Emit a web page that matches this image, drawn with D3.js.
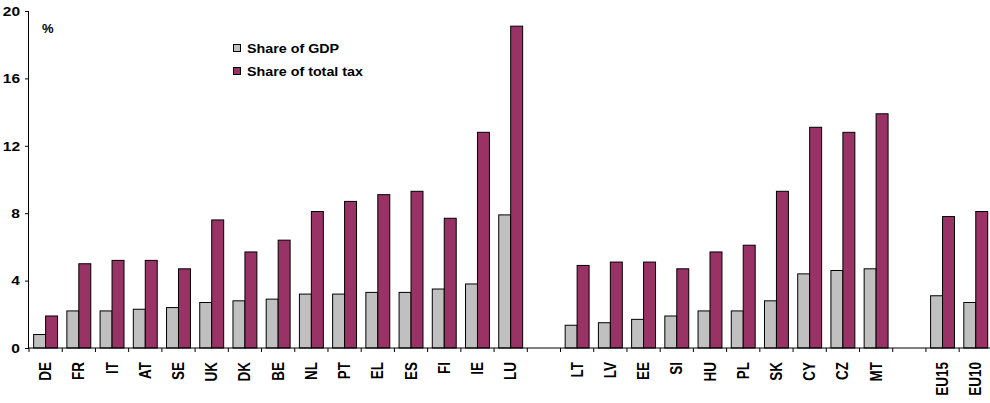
<!DOCTYPE html>
<html><head><meta charset="utf-8">
<script src="https://cdn.jsdelivr.net/npm/d3@7/dist/d3.min.js"></script>
<style>body{margin:0;background:#fff}text{font-family:"Liberation Sans",Arial,sans-serif;font-weight:bold;fill:#000}</style>
</head><body><svg id="c" width="990" height="403"></svg>
<script>
const categories = ["DE","FR","IT","AT","SE","UK","DK","BE","NL","PT","EL","ES","FI","IE","LU","",
  "LT","LV","EE","SI","HU","PL","SK","CY","CZ","MT"," ","EU15","EU10"];
const shareGDP = [0.8,2.2,2.2,2.3,2.4,2.7,2.8,2.9,3.2,3.2,3.3,3.3,3.5,3.8,7.9,null,
  1.35,1.5,1.7,1.9,2.2,2.2,2.8,4.4,4.6,4.7,null,3.1,2.7];
const shareTax = [1.9,5.0,5.2,5.2,4.7,7.6,5.7,6.4,8.1,8.7,9.1,9.3,7.7,12.8,19.1,null,
  4.9,5.1,5.1,4.7,5.7,6.1,9.3,13.1,12.8,13.9,null,7.8,8.1];
const yTicks = [0,4,8,12,16,20];
const seriesNames = ["Share of GDP","Share of total tax"];
const colors = ["#C0C0C0","#993366"];

const svg = d3.select("#c");
const x0 = 29, x1 = 29 + 29*33.22, yTop = 11, yBot = 348;
const x = d3.scaleBand().domain(categories.map((c,i)=>i)).range([x0,x1]).padding(0);
const y = d3.scaleLinear().domain([0,20]).range([yBot,yTop]);
const bw = x.bandwidth(), barW = bw*0.36, off = (bw-2*barW)/2;

// bars
[shareGDP, shareTax].forEach((vals,s)=>{
  svg.append("g").selectAll("rect").data(vals.map((v,i)=>({v,i})).filter(d=>d.v!=null))
    .join("rect")
    .attr("x",d=>x(d.i)+off+s*barW)
    .attr("y",d=>y(d.v))
    .attr("width",barW)
    .attr("height",d=>yBot-y(d.v))
    .attr("fill",colors[s]).attr("stroke","#000").attr("stroke-width",1);
});

// y axis
const ya = svg.append("g").attr("transform",`translate(${x0},0)`)
  .call(d3.axisLeft(y).tickValues(yTicks).tickSize(4).tickPadding(7));
ya.select(".domain").attr("stroke","#000").attr("d",`M-0.5,${yTop}V${yBot}`);
ya.selectAll("text").style("font-size","13.5px").style("font-family","Liberation Sans, Arial, sans-serif").style("font-weight","bold")
  .attr("transform","scale(1.15,1)").attr("x",-9/1.15);

// x axis
const xa = svg.append("g").attr("transform",`translate(0,${yBot})`);
xa.append("line").attr("x1",x0).attr("x2",x1).attr("stroke","#000");
xa.selectAll("line.t").data(d3.range(categories.length+1)).join("line").attr("class","t")
  .attr("x1",i=>x0+i*bw).attr("x2",i=>x0+i*bw).attr("y1",0).attr("y2",4).attr("stroke","#000");
xa.selectAll("text").data(categories.map((c,i)=>({c,i}))).join("text")
  .attr("transform",d=>`translate(${x(d.i)+bw/2+5.5},${14}) scale(1.22,1) rotate(-90)`)
  .attr("text-anchor","end").style("font-size","13.5px").text(d=>d.c);

// % label
svg.append("text").attr("x",42).attr("y",33).style("font-size","13px").text("%");

// legend
const lg = svg.append("g").attr("transform","translate(233,44)");
seriesNames.forEach((n,i)=>{
  lg.append("rect").attr("x",0.5).attr("y",i*23+0.5).attr("width",7).attr("height",7)
    .attr("fill",colors[i]).attr("stroke","#000");
  lg.append("text").attr("x",14).attr("y",i*23+9).attr("transform",`translate(${14*(-0.1)},0) scale(1.1,1)`).style("font-size","13px").text(n);
});
</script></body></html>
